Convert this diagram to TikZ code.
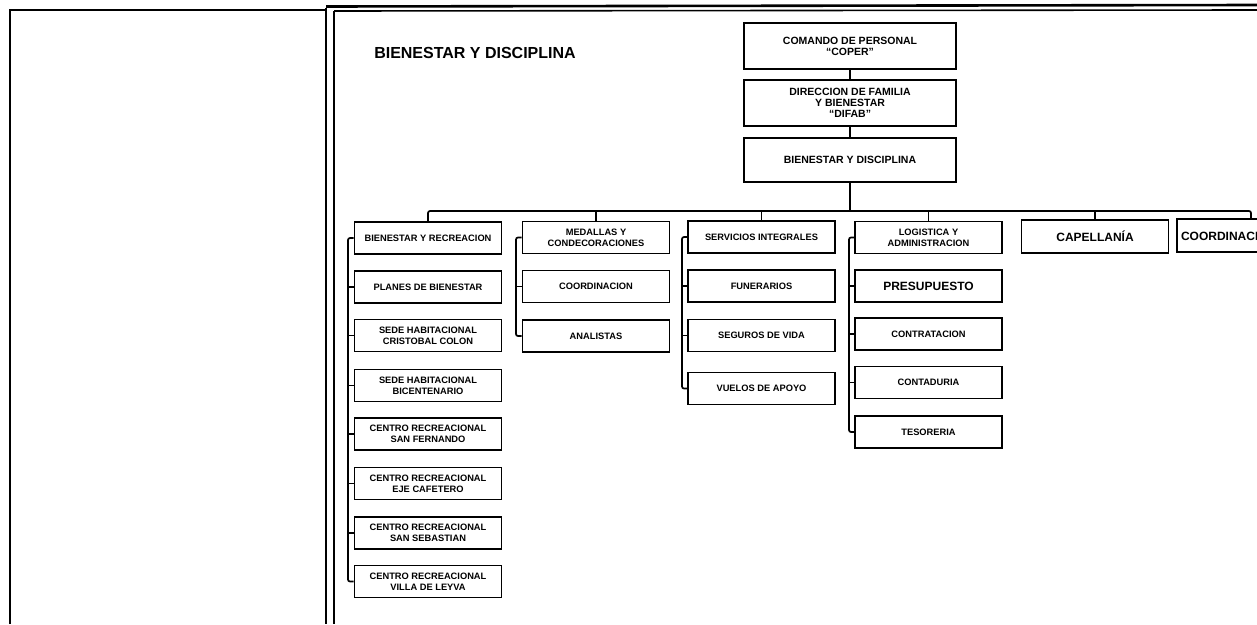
\documentclass[tikz,border=0pt]{standalone}
\usepackage{fontspec}
\setmainfont{Liberation Sans}
\begin{document}
\begin{tikzpicture}[x=1pt,y=-1pt,
  frame/.style={line width=2.6pt},
  thinframe/.style={line width=1.6pt},
  bx/.style={draw, line width=1.9pt, minimum width=147pt, minimum height=32pt,
    align=center, inner sep=0pt, font=\bfseries\fontsize{9.3}{11}\selectfont},
  bigtxt/.style={font=\bfseries\fontsize{12}{13}\selectfont},
  topbx/.style={draw, line width=1.9pt, minimum width=212pt, minimum height=46pt,
    align=center, inner sep=0pt, font=\bfseries\fontsize{10.5}{11}\selectfont},
  conn/.style={line width=1.7pt, rounded corners=2pt},
]
\useasboundingbox (0,0) rectangle (1257,624);
% frame
\draw[frame] (10,624) -- (10,10) -- (326,10);
\draw[frame] (326,8) -- (326,624);
\draw[thinframe] (334,11) -- (334,624);
\draw[frame] (326,6.5) -- (1257,5);
\draw[thinframe] (334,11) -- (1257,10);

\node[font=\bfseries\fontsize{16}{16}\selectfont] (title) at (475,53) {BIENESTAR Y DISCIPLINA};

% top chain
\node[topbx] (coper) at (850,46) {COMANDO DE PERSONAL\\``COPER''};
\node[topbx] (difab) at (850,103) {DIRECCION DE FAMILIA\\Y BIENESTAR\\``DIFAB''};
\node[topbx, minimum height=44pt] (byd) at (850,160) {BIENESTAR Y DISCIPLINA};
\draw[conn] (coper.south) -- (difab.north);
\draw[conn] (difab.south) -- (byd.north);

% headers
\node[bx] (h1) at (428,238) {BIENESTAR Y RECREACION};
\node[bx] (h2) at (596,237.5) {MEDALLAS Y\\CONDECORACIONES};
\node[bx] (h3) at (761.5,237) {SERVICIOS INTEGRALES};
\node[bx] (h4) at (928.5,237.5) {LOGISTICA Y\\ADMINISTRACION};
\node[bx, bigtxt, minimum height=33pt] (h5) at (1095,236.5) {CAPELLANÍA};
\node[bx, bigtxt, minimum width=148pt, minimum height=33pt, text width=140pt, align=left] (h6) at (1251,235.5) {COORDINACIÓN};

\coordinate (busy) at (0,211);
\draw[conn, rounded corners=0pt] (byd.south) -- (byd.south |- busy);
\draw[conn] (h1.north) |- (h6.north |- busy) -- (h6.north);
\draw[conn] (h2.north) -- (h2.north |- busy);
\draw[conn] (h3.north) -- (h3.north |- busy);
\draw[conn] (h4.north) -- (h4.north |- busy);
\draw[conn] (h5.north) -- (h5.north |- busy);

% column 1
\node[bx] (a2) at (428,287) {PLANES DE BIENESTAR};
\node[bx] (a3) at (428,335.5) {SEDE HABITACIONAL\\CRISTOBAL COLON};
\node[bx] (a4) at (428,385.5) {SEDE HABITACIONAL\\BICENTENARIO};
\node[bx] (a5) at (428,434) {CENTRO RECREACIONAL\\SAN FERNANDO};
\node[bx] (a6) at (428,483.5) {CENTRO RECREACIONAL\\EJE CAFETERO};
\node[bx] (a7) at (428,533) {CENTRO RECREACIONAL\\SAN SEBASTIAN};
\node[bx] (a8) at (428,581.5) {CENTRO RECREACIONAL\\VILLA DE LEYVA};
\coordinate (v1) at (348,0);
\draw[conn] (h1.west) -- (h1.west -| v1) |- (a8.west);
\foreach \n in {a2,a3,a4,a5,a6,a7} \draw[conn] (\n.west) -- (\n.west -| v1);

% column 2
\node[bx] (b2) at (596,286.5) {COORDINACION};
\node[bx] (b3) at (596,336) {ANALISTAS};
\coordinate (v2) at (516,0);
\draw[conn] (h2.west) -- (h2.west -| v2) |- (b3.west);
\draw[conn] (b2.west) -- (b2.west -| v2);

% column 3
\node[bx] (c2) at (761.5,286) {FUNERARIOS};
\node[bx] (c3) at (761.5,335.5) {SEGUROS DE VIDA};
\node[bx] (c4) at (761.5,388.5) {VUELOS DE APOYO};
\coordinate (v3) at (682,0);
\draw[conn] (h3.west) -- (h3.west -| v3) |- (c4.west);
\foreach \n in {c2,c3} \draw[conn] (\n.west) -- (\n.west -| v3);

% column 4
\node[bx, bigtxt] (d2) at (928.5,286) {PRESUPUESTO};
\node[bx] (d3) at (928.5,334) {CONTRATACION};
\node[bx] (d4) at (928.5,382.5) {CONTADURIA};
\node[bx] (d5) at (928.5,432) {TESORERIA};
\coordinate (v4) at (849,0);
\draw[conn] (h4.west) -- (h4.west -| v4) |- (d5.west);
\foreach \n in {d2,d3,d4} \draw[conn] (\n.west) -- (\n.west -| v4);
\end{tikzpicture}
\end{document}
